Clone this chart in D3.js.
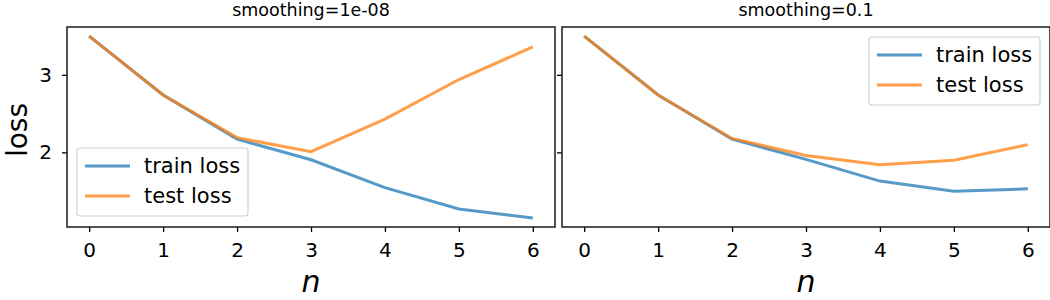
<!DOCTYPE html>
<html lang="en">
<head>
    <meta charset="UTF-8">
    <title>Loss vs n</title>
    <script src="https://d3js.org/d3.v7.min.js"></script>
    <style>
        body {
            margin: 0;
            background: white;
            font-family: "DejaVu Sans", sans-serif;
        }
        .tick text {
            font-family: "DejaVu Sans", sans-serif;
            font-size: 20px;
            fill: #000;
        }
        .tick line {
            stroke: #000;
            stroke-width: 1.3;
        }
        .domain {
            display: none;
        }
    </style>
</head>
<body>

<svg width="1050" height="300"></svg>

<script>
    // data
    const nValues = [0, 1, 2, 3, 4, 5, 6];
    const titles = ["smoothing=1e-08", "smoothing=0.1"];
    const trainLoss1 = [3.50, 2.74, 2.17, 1.905, 1.545, 1.27, 1.155];
    const testLoss1 = [3.50, 2.74, 2.19, 2.01, 2.43, 2.94, 3.36];
    const trainLoss2 = [3.50, 2.74, 2.17, 1.91, 1.63, 1.50, 1.53];
    const testLoss2 = [3.50, 2.74, 2.18, 1.96, 1.84, 1.90, 2.10];
    const yTicks = [2, 3];
    const seriesNames = ["train loss", "test loss"];
    const colors = ["#1f77b4", "#ff7f0e"];

    const width = 1050, height = 300;
    const panelLeft = [67, 562], panelWidth = 488;
    const plotTop = 27, plotBottom = 227;

    const svg = d3.select("svg").attr("width", width).attr("height", height);

    const allVals = trainLoss1.concat(testLoss1, trainLoss2, testLoss2);
    const yMin = d3.min(allVals), yMax = d3.max(allVals);
    const yPad = (yMax - yMin) * 0.05;
    const yScale = d3.scaleLinear()
        .domain([yMin - yPad, yMax + yPad])
        .range([plotBottom, plotTop]);

    const panels = [
        { title: titles[0], series: [trainLoss1, testLoss1], legend: { x: 77, y: 148, w: 171, h: 68 }, yLabels: true },
        { title: titles[1], series: [trainLoss2, testLoss2], legend: { x: 869, y: 37, w: 171, h: 68 }, yLabels: false }
    ];

    panels.forEach((p, i) => {
        const x0 = panelLeft[i];
        const xScale = d3.scaleLinear()
            .domain([-0.3, 6.3])
            .range([x0, x0 + panelWidth]);

        // x axis
        svg.append("g")
            .attr("transform", `translate(0,${plotBottom})`)
            .call(d3.axisBottom(xScale).tickValues(nValues).tickFormat(d3.format("d")).tickSize(5).tickPadding(11));

        // y axis
        svg.append("g")
            .attr("transform", `translate(${x0},0)`)
            .call(d3.axisLeft(yScale).tickValues(yTicks)
                .tickFormat(p.yLabels ? d3.format("d") : () => "")
                .tickSize(5).tickPadding(10));

        // lines
        const line = d3.line()
            .x((d, j) => xScale(nValues[j]))
            .y(d => yScale(d));

        p.series.forEach((vals, k) => {
            svg.append("path")
                .datum(vals)
                .attr("d", line)
                .attr("fill", "none")
                .attr("stroke", colors[k])
                .attr("stroke-opacity", 0.75)
                .attr("stroke-width", 3);
        });

        // frame
        svg.append("rect")
            .attr("x", x0)
            .attr("y", plotTop)
            .attr("width", panelWidth)
            .attr("height", plotBottom - plotTop)
            .attr("fill", "none")
            .attr("stroke", "#1a1a1a")
            .attr("stroke-width", 1.5);

        // title
        svg.append("text")
            .attr("x", x0 + panelWidth / 2)
            .attr("y", 16)
            .attr("text-anchor", "middle")
            .style("font-size", "17.5px")
            .text(p.title);

        // x label
        svg.append("text")
            .attr("x", x0 + panelWidth / 2)
            .attr("y", 292)
            .attr("text-anchor", "middle")
            .style("font-size", "30px")
            .style("font-style", "italic")
            .text("n");

        // legend
        const lg = svg.append("g");
        lg.append("rect")
            .attr("x", p.legend.x)
            .attr("y", p.legend.y)
            .attr("width", p.legend.w)
            .attr("height", p.legend.h)
            .attr("rx", 3)
            .attr("fill", "white")
            .attr("fill-opacity", 0.8)
            .attr("stroke", "#d0d0d0")
            .attr("stroke-width", 1.2);

        seriesNames.forEach((name, k) => {
            const ly = p.legend.y + 18 + k * 30;
            lg.append("line")
                .attr("x1", p.legend.x + 8)
                .attr("x2", p.legend.x + 53)
                .attr("y1", ly)
                .attr("y2", ly)
                .attr("stroke", colors[k])
                .attr("stroke-opacity", 0.75)
                .attr("stroke-width", 3);
            lg.append("text")
                .attr("x", p.legend.x + 67)
                .attr("y", ly + 7)
                .style("font-size", "21px")
                .text(name);
        });
    });

    // y label
    svg.append("text")
        .attr("transform", `translate(27,130) rotate(-90)`)
        .attr("text-anchor", "middle")
        .style("font-size", "28px")
        .text("loss");
</script>

</body>
</html>
